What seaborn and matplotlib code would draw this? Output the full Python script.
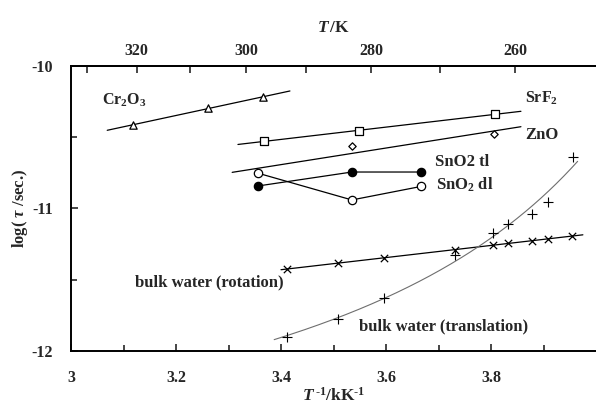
import numpy as np
import pandas as pd
import matplotlib
matplotlib.use("Agg")
import matplotlib.pyplot as plt
import seaborn as sns

# ---------------- data ----------------
cr2o3_x = [3.118, 3.261, 3.366]
cr2o3_y = [-10.414, -10.295, -10.218]

srf2_x = [3.368, 3.549, 3.808]
srf2_y = [-10.526, -10.456, -10.337]

zno_x = [3.356, 3.535, 3.806]
zno_y = [-10.75, -10.56, -10.477]

sno2_tl_x = [3.356, 3.535, 3.667]
sno2_tl_y = [-10.842, -10.744, -10.744]

sno2_dl_x = [3.356, 3.535, 3.667]
sno2_dl_y = [-10.752, -10.94, -10.845]

rot_x = [3.411, 3.509, 3.596, 3.731, 3.804, 3.832, 3.878, 3.909, 3.954]
rot_y = [-11.425, -11.382, -11.347, -11.291, -11.256, -11.242, -11.228, -11.214, -11.193]

trans_x = [3.411, 3.509, 3.596, 3.731, 3.804, 3.832, 3.878, 3.909, 3.956]
trans_y = [-11.902, -11.775, -11.628, -11.326, -11.172, -11.11, -11.04, -10.954, -10.64]

x_ticks = [3.0, 3.2, 3.4, 3.6, 3.8]
x_tick_labels = ["3", "3.2", "3.4", "3.6", "3.8"]
y_ticks = [-12, -11, -10]
top_ticks = [320, 300, 280, 260]
top_minor = [330, 310, 290, 270]

# ---------------- style ----------------
sns.set_theme(style="ticks")
plt.rcParams["font.family"] = ["Liberation Serif", "DejaVu Serif"]
plt.rcParams["font.weight"] = "bold"
plt.rcParams["mathtext.fontset"] = "custom"
plt.rcParams["mathtext.rm"] = "Liberation Serif:bold"
plt.rcParams["mathtext.bf"] = "Liberation Serif:bold"
plt.rcParams["mathtext.it"] = "Liberation Serif:italic:bold"

fig = plt.figure(figsize=(5.96, 4.11), dpi=100)
ax = fig.add_axes([71 / 596, 60 / 411, 525 / 596, 285 / 411])

def fit_line(xs, ys, x0, x1):
    p = np.polyfit(xs, ys, 1)
    xx = np.linspace(x0, x1, 50)
    return xx, np.polyval(p, xx)

def vft_curve(xs, ys, x0, x1):
    T = 1000.0 / np.asarray(xs)
    y = np.asarray(ys)
    best = None
    for T0 in np.linspace(150, 245, 400):
        A = np.column_stack([np.ones_like(T), 1.0 / (T - T0)])
        coef, *_ = np.linalg.lstsq(A, y, rcond=None)
        r = np.sum((A @ coef - y) ** 2)
        if best is None or r < best[0]:
            best = (r, T0, coef)
    _, T0, coef = best
    xx = np.linspace(x0, x1, 200)
    TT = 1000.0 / xx
    return xx, coef[0] + coef[1] / (TT - T0)

lw = 0.9
# fit lines
for xs, ys, a, b in [(cr2o3_x, cr2o3_y, 3.069, 3.417),
                     (srf2_x, srf2_y, 3.318, 3.857),
                     (zno_x, zno_y, 3.307, 3.857),
                     (rot_x, rot_y, 3.40, 3.975)]:
    xx, yy = fit_line(xs, ys, a, b)
    sns.lineplot(x=xx, y=yy, ax=ax, color="black", lw=lw, sort=False, estimator=None)

xx, yy = vft_curve(trans_x, trans_y, 3.387, 3.965)
sns.lineplot(x=xx, y=yy, ax=ax, color="#6e6e6e", lw=0.8, sort=False, estimator=None)

# connected SnO2 series
sns.lineplot(x=sno2_tl_x, y=sno2_tl_y, ax=ax, color="black", lw=lw, sort=False, estimator=None)
sns.lineplot(x=sno2_dl_x, y=sno2_dl_y, ax=ax, color="black", lw=lw, sort=False, estimator=None)

# markers
def pts(xs, ys, marker, size, fc, ec="black", lwm=0.9):
    sns.scatterplot(x=xs, y=ys, ax=ax, marker=marker, s=size, facecolor=fc,
                    edgecolor=ec, linewidth=lwm, zorder=5)

pts(cr2o3_x, cr2o3_y, "^", 28, "white")
pts(srf2_x, srf2_y, "s", 30, "white")
pts(zno_x, zno_y, "D", 14, "white")
pts(sno2_dl_x, sno2_dl_y, "o", 36, "white")
pts(sno2_tl_x, sno2_tl_y, "o", 36, "black")
ax.scatter(rot_x, rot_y, marker="x", s=28, color="black", linewidths=0.9, zorder=5)
ax.scatter(trans_x, trans_y, marker="+", s=60, color="black", linewidths=0.8, zorder=5)

# labels
fs = 12
ax.text(3.059, -10.239, r"Cr$_2$O$_3$", fontsize=11.5, fontweight="bold", va="center")
ax.text(3.865, -10.225, r"SrF$_2$", fontsize=11.5, fontweight="bold", va="center")
ax.text(3.865, -10.484, "ZnO", fontsize=fs, fontweight="bold", va="center")
ax.text(3.693, -10.674, "SnO2 tl", fontsize=fs, fontweight="bold", va="center")
ax.text(3.695, -10.835, r"SnO$_2$ dl", fontsize=fs, fontweight="bold", va="center")
ax.text(3.122, -11.516, "bulk water (rotation)", fontsize=12, fontweight="bold", va="center")
ax.text(3.549, -11.825, "bulk water (translation)", fontsize=12, fontweight="bold", va="center")

# axes
ax.set_xlim(3.0, 4.0)
ax.set_ylim(-12.0, -10.0)
ax.set_xticks(x_ticks)
ax.set_xticklabels(x_tick_labels)
ax.set_xticks([3.1, 3.3, 3.5, 3.7, 3.9], minor=True)
ax.set_yticks(y_ticks)
ax.set_yticklabels([str(v) for v in y_ticks])
ax.set_yticks([-11.5, -10.5], minor=True)
ax.tick_params(axis="both", which="major", direction="in", length=5, width=1.2,
               labelsize=11.5)
ax.tick_params(axis="both", which="minor", direction="in", length=4, width=1.2)
ax.tick_params(axis="x", which="major", pad=14)
ax.tick_params(axis="y", which="major", pad=13)
for lab in ax.get_xticklabels() + ax.get_yticklabels():
    lab.set_fontweight("bold")
ax.spines["right"].set_visible(False)
for s in ["left", "bottom", "top"]:
    ax.spines[s].set_linewidth(1.4)
    ax.spines[s].set_color("black")

ax.set_xlabel(r"$T^{\,\text{-1}}$/kK$^{\text{-1}}$", fontsize=12.5, fontweight="bold", labelpad=0)
ax.set_ylabel(r"log( $\tau$ /sec.)", fontsize=12, fontweight="bold", labelpad=1)

sec = ax.secondary_xaxis("top", functions=(lambda x: 1000.0 / x, lambda T: 1000.0 / T))
sec.set_xticks(top_ticks)
sec.set_xticklabels([str(t) for t in top_ticks])
sec.set_xticks(top_minor, minor=True)
sec.tick_params(which="major", direction="in", length=5, width=1.2, labelsize=11.5, pad=5)
sec.tick_params(which="minor", direction="in", length=5, width=1.2)
for lab in sec.get_xticklabels():
    lab.set_fontweight("bold")
sec.spines["top"].set_linewidth(1.4)
sec.set_xlabel(r"$T\,$/K", fontsize=12.5, fontweight="bold", labelpad=8)

fig.savefig("out.png", dpi=100)
